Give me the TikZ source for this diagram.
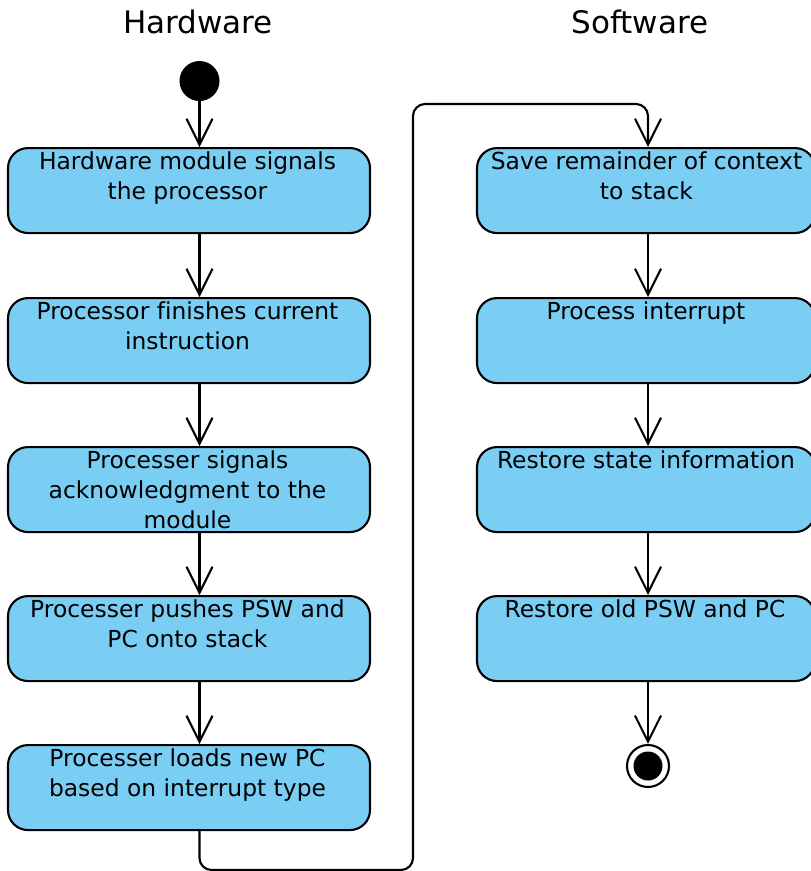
\documentclass[tikz,border=0pt]{standalone}
\usepackage{fontspec}
\setmainfont{DejaVu Sans}[Ligatures={NoCommon}]
\usetikzlibrary{arrows.meta,calc}
\definecolor{actfill}{RGB}{122,206,244}
\begin{document}
\begin{tikzpicture}[x=1pt,y=-1pt,
  action/.style={draw=black, line width=2.1pt, fill=actfill, rounded corners=20pt,
    minimum width=362pt, minimum height=85pt, inner sep=0pt, anchor=north},
  acttext/.style={align=center, inner sep=0pt, anchor=north,
    font=\fontsize{23.4}{30}\selectfont},
  lane/.style={font=\fontsize{31}{36}\selectfont, inner sep=0pt},
  flow/.style={draw=black, line width=2.1pt,
    -{Straight Barb[length=26pt,width=26pt,line width=2.1pt]}},
  startdot/.style={circle, fill=black, minimum size=40pt, inner sep=0pt},
]
\useasboundingbox (0,0) rectangle (811,871);
\begin{scope}
\clip (0,0) rectangle (811,871);

% swimlane titles
\node[lane] (hw) at (198,22) {Hardware};
\node[lane] (sw) at (640,22) {Software};

% initial and final states
\node[startdot] (start) at (199.5,81) {};
\node[circle, draw=black, line width=2.1pt, fill=white, minimum size=42pt, inner sep=0pt] (end) at (648,766) {};
\node[circle, fill=black, minimum size=29pt, inner sep=0pt] (endin) at (end.center) {};

% hardware actions
\node[action] (h1) at (189,147) {};
\node[action] (h2) at (189,297) {};
\node[action] (h3) at (189,446) {};
\node[action] (h4) at (189,595) {};
\node[action] (h5) at (189,744) {};

% software actions
\node[action, minimum width=338pt] (s1) at (646,147) {};
\node[action, minimum width=338pt] (s2) at (646,297) {};
\node[action, minimum width=338pt] (s3) at (646,446) {};
\node[action, minimum width=338pt] (s4) at (646,595) {};

% action labels, set against the top of each box
\node[acttext] (h1t) at ($(h1.north)+(-1.5,5)$) {Hardware module signals\\the processor};
\node[acttext] (h2t) at ($(h2.north)+(-1.5,5)$) {Processor finishes current\\instruction};
\node[acttext] (h3t) at ($(h3.north)+(-1.5,5)$) {Processer signals\\acknowledgment to the\\module};
\node[acttext] (h4t) at ($(h4.north)+(-1.5,5)$) {Processer pushes PSW and\\PC onto stack};
\node[acttext] (h5t) at ($(h5.north)+(-1.5,5)$) {Processer loads new PC\\based on interrupt type};
\node[acttext] (s1t) at ($(s1.north)+(0.5,5)$) {Save remainder of context\\to stack};
\node[acttext] (s2t) at ($(s2.north)+(0,5)$) {Process interrupt};
\node[acttext] (s3t) at ($(s3.north)+(0,5)$) {Restore state information};
\node[acttext] (s4t) at ($(s4.north)+(-1,5)$) {Restore old PSW and PC};

% control flow
\draw[flow] (start) -- (start |- h1.north);
\draw[flow] (start |- h1.south) -- (start |- h2.north);
\draw[flow] (start |- h2.south) -- (start |- h3.north);
\draw[flow] (start |- h3.south) -- (start |- h4.north);
\draw[flow] (start |- h4.south) -- (start |- h5.north);

\coordinate (loopbot) at (413,870);
\coordinate (looptop) at (413,104);
\draw[flow, rounded corners=12pt] (start |- h5.south) |- (loopbot) -- (looptop) -| (end |- s1.north);

\draw[flow] (end |- s1.south) -- (end |- s2.north);
\draw[flow] (end |- s2.south) -- (end |- s3.north);
\draw[flow] (end |- s3.south) -- (end |- s4.north);
\draw[flow] (end |- s4.south) -- (end.north);
\end{scope}
\end{tikzpicture}
\end{document}
